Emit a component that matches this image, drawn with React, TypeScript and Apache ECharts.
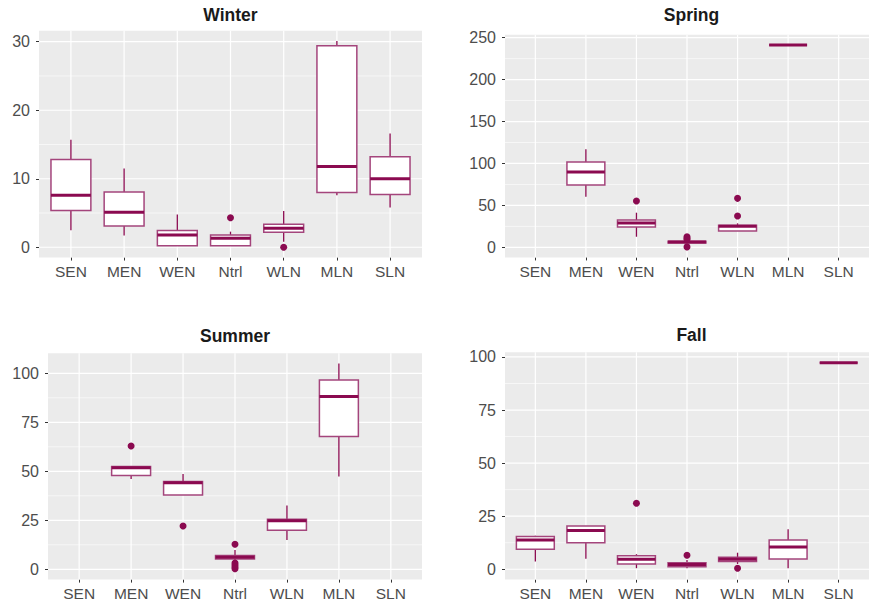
import React, { useEffect, useRef } from 'react';
import * as echarts from 'echarts';

const FONT = '"Liberation Sans", Arial, Helvetica, sans-serif';
const BOX_COLOR = '#A4457C';
const WHISKER_COLOR = '#8B0A50';
const MEDIAN_COLOR = '#8B0A50';

const categories = ['SEN', 'MEN', 'WEN', 'Ntrl', 'WLN', 'MLN', 'SLN'];
const categoryIdx = [0, 1, 2, 3, 4, 5, 6];

// [lower whisker, Q1, median, Q3, upper whisker]; null = no data
const winterBoxes: (number[] | null)[] = [
  [2.5, 5.35, 7.6, 12.8, 15.7],
  [1.7, 3.1, 5.1, 8.07, 11.5],
  [0.2, 0.23, 1.8, 2.43, 4.8],
  [0.2, 0.23, 1.3, 1.8, 2.28],
  [0.8, 2.19, 2.77, 3.35, 5.3],
  [7.6, 8.0, 11.8, 29.4, 30.1],
  [5.8, 7.7, 10.0, 13.2, 16.6],
];
const winterOutliers = [[3, 4.3], [4, 0]];

const springBoxes: (number[] | null)[] = [
  null,
  [60.4, 74.3, 89.8, 101.7, 116.9],
  [12.6, 24.2, 29.0, 32.6, 41.3],
  [5.0, 5.2, 6.2, 7.2, 7.5],
  [19.5, 19.5, 25.0, 26.2, 28.6],
  [241.3, 241.3, 241.3, 241.3, 241.3],
  null,
];
const springOutliers = [[2, 55.2], [3, 12.5], [3, 10.8], [3, 9.2], [3, 0.5], [4, 58.4], [4, 37.3]];

const summerBoxes: (number[] | null)[] = [
  null,
  [46.1, 47.8, 51.8, 52.5, 52.5],
  [37.9, 37.9, 44.2, 44.8, 48.6],
  [4.4, 5.3, 6.2, 7.1, 9.8],
  [15.0, 19.9, 24.8, 25.5, 32.5],
  [47.3, 67.7, 88.1, 96.6, 105.0],
  null,
];
const summerOutliers = [[1, 62.9], [2, 22.1], [3, 12.8], [3, 3.2], [3, 2.2], [3, 1.2], [3, 0.3]];

const fallBoxes: (number[] | null)[] = [
  [3.6, 9.4, 13.8, 15.4, 15.8],
  [4.9, 12.5, 18.2, 20.4, 20.4],
  [0.5, 2.5, 4.7, 6.4, 7.1],
  [0.5, 1.2, 2.2, 3.1, 4.4],
  [2.5, 3.6, 4.7, 5.65, 7.8],
  [0.5, 4.85, 10.5, 13.8, 18.8],
  [97.3, 97.3, 97.3, 97.3, 97.3],
];
const fallOutliers = [[2, 31.1], [3, 6.6], [4, 0.5]];

const winterTicks = [0, 10, 20, 30];
const winterMinor = [5, 15, 25];
const springTicks = [0, 50, 100, 150, 200, 250];
const springMinor = [25, 75, 125, 175, 225];
const summerTicks = [0, 25, 50, 75, 100];
const summerMinor = [12.5, 37.5, 62.5, 87.5];
const fallTicks = [0, 25, 50, 75, 100];
const fallMinor = [12.5, 37.5, 62.5, 87.5];

const winterRange = [-1.5, 31.6];
const springRange = [-12.1, 253.4];
const summerRange = [-5.25, 110.25];
const fallRange = [-4.87, 102.2];

const panels = [
  { title: 'Winter', boxes: winterBoxes, outliers: winterOutliers, ticks: winterTicks, minor: winterMinor, range: winterRange,
    grid: { left: 39, top: 30.75, width: 383, height: 226.8 }, titleX: 230.5, titleTop: 6 },
  { title: 'Spring', boxes: springBoxes, outliers: springOutliers, ticks: springTicks, minor: springMinor, range: springRange,
    grid: { left: 505, top: 34.85, width: 373, height: 222.6 }, titleX: 691.5, titleTop: 6 },
  { title: 'Summer', boxes: summerBoxes, outliers: summerOutliers, ticks: summerTicks, minor: summerMinor, range: summerRange,
    grid: { left: 48, top: 353.2, width: 374, height: 226.4 }, titleX: 235, titleTop: 327 },
  { title: 'Fall', boxes: fallBoxes, outliers: fallOutliers, ticks: fallTicks, minor: fallMinor, range: fallRange,
    grid: { left: 505, top: 352.3, width: 373, height: 227.3 }, titleX: 691.5, titleTop: 326.5 },
];

function buildOption() {
  const grid: any[] = [];
  const xAxis: any[] = [];
  const yAxis: any[] = [];
  const series: any[] = [];
  const title: any[] = [];

  panels.forEach((p, i) => {
    grid.push({ ...p.grid, show: true, backgroundColor: '#EBEBEB', borderWidth: 0, containLabel: false });
    title.push({
      text: p.title, left: p.titleX, top: p.titleTop, textAlign: 'center', padding: 0,
      textStyle: { fontFamily: FONT, fontWeight: 'bold', fontSize: 17.5, lineHeight: 17.5, color: '#1A1A1A' },
    });
    xAxis.push({
      gridIndex: i, type: 'value', min: -0.6, max: 6.6,
      splitLine: { show: false },
      axisLine: { show: false, onZero: false },
      axisTick: { show: true, customValues: categoryIdx, length: 3, lineStyle: { color: '#333333', width: 1 } },
      axisLabel: {
        customValues: categoryIdx, formatter: (v: number) => categories[Math.round(v)] ?? '',
        color: '#4D4D4D', fontSize: 15.5, fontFamily: FONT, margin: 6,
      },
    });
    yAxis.push({
      gridIndex: i, type: 'value', min: p.range[0], max: p.range[1],
      splitLine: { show: false },
      axisLine: { show: false, onZero: false },
      axisTick: { show: true, customValues: p.ticks, length: 3, lineStyle: { color: '#333333', width: 1 } },
      axisLabel: { customValues: p.ticks, color: '#4D4D4D', fontSize: 16, fontFamily: FONT, margin: 9 },
    });

    const gridLines: number[][] = [];
    p.minor.forEach((v) => gridLines.push([0, v, 0]));
    p.ticks.forEach((v) => gridLines.push([0, v, 1]));
    categoryIdx.forEach((v) => gridLines.push([1, v, 1]));

    series.push({
      type: 'custom', xAxisIndex: i, yAxisIndex: i, z: 1, silent: true,
      data: gridLines,
      encode: { x: 1, y: 1 },
      renderItem: (params: any, api: any) => {
        const cs = params.coordSys;
        const kind = api.value(0);
        const v = api.value(1);
        const major = api.value(2);
        const style = { stroke: '#FFFFFF', lineWidth: major ? 1.2 : 0.6 };
        if (kind === 0) {
          const y = api.coord([0, v])[1];
          return { type: 'line', shape: { x1: cs.x, y1: y, x2: cs.x + cs.width, y2: y }, style };
        }
        const x = api.coord([v, 0])[0];
        return { type: 'line', shape: { x1: x, y1: cs.y, x2: x, y2: cs.y + cs.height }, style };
      },
    });

    const boxData: number[][] = [];
    p.boxes.forEach((b, idx) => { if (b) boxData.push([idx, ...b]); });

    series.push({
      type: 'custom', xAxisIndex: i, yAxisIndex: i, z: 3,
      data: boxData,
      encode: { x: 0, y: [1, 2, 3, 4, 5] },
      renderItem: (params: any, api: any) => {
        const x = api.value(0);
        const pMin = api.coord([x, api.value(1)]);
        const cx = pMin[0];
        const yMin = pMin[1];
        const yQ1 = api.coord([x, api.value(2)])[1];
        const yMed = api.coord([x, api.value(3)])[1];
        const yQ3 = api.coord([x, api.value(4)])[1];
        const yMax = api.coord([x, api.value(5)])[1];
        const half = api.size([0.75, 0])[0] / 2;
        return {
          type: 'group',
          children: [
            { type: 'line', shape: { x1: cx, y1: yQ3, x2: cx, y2: yMax }, style: { stroke: WHISKER_COLOR, lineWidth: 1.3 } },
            { type: 'line', shape: { x1: cx, y1: yQ1, x2: cx, y2: yMin }, style: { stroke: WHISKER_COLOR, lineWidth: 1.3 } },
            { type: 'rect', shape: { x: cx - half, y: yQ3, width: 2 * half, height: yQ1 - yQ3 },
              style: { fill: '#FFFFFF', stroke: BOX_COLOR, lineWidth: 1.5 } },
            { type: 'line', shape: { x1: cx - half, y1: yMed, x2: cx + half, y2: yMed }, style: { stroke: MEDIAN_COLOR, lineWidth: 3 } },
          ],
        };
      },
    });

    series.push({
      type: 'scatter', xAxisIndex: i, yAxisIndex: i, z: 4,
      data: p.outliers, symbol: 'circle', symbolSize: 7,
      itemStyle: { color: MEDIAN_COLOR, opacity: 1 },
    });
  });

  return { animation: false, backgroundColor: '#FFFFFF', title, grid, xAxis, yAxis, series };
}

export default function App() {
  const ref = useRef<HTMLDivElement>(null);
  useEffect(() => {
    document.body.style.margin = '0';
    if (!ref.current) return;
    const chart = echarts.init(ref.current, undefined, { renderer: 'svg' });
    chart.setOption(buildOption() as any);
    return () => chart.dispose();
  }, []);
  return <div ref={ref} style={{ width: 869, height: 611 }} />;
}
